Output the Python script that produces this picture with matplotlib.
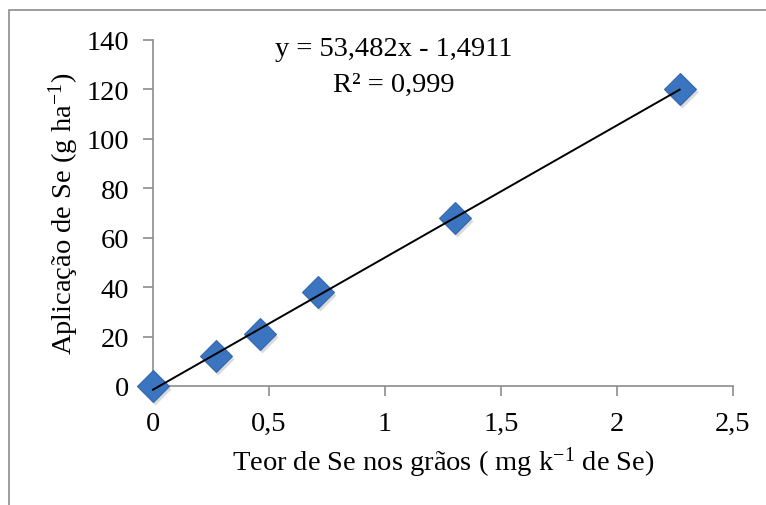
import matplotlib
matplotlib.use("Agg")
import matplotlib.pyplot as plt
import matplotlib.patches as mpatches
import numpy as np

plt.rcParams['font.family'] = ['Liberation Serif', 'DejaVu Serif']
plt.rcParams['mathtext.fontset'] = 'custom'
plt.rcParams['mathtext.rm'] = 'Liberation Serif'

# data
teor = [0, 0.27, 0.46, 0.71, 1.30, 2.27]
aplicacao = [0, 12, 21, 38, 68, 120]
slope, intercept = 53.482, -1.4911
xticks = [0, 0.5, 1, 1.5, 2, 2.5]
xticklabels = ['0', '0,5', '1', '1,5', '2', '2,5']
yticks = [0, 20, 40, 60, 80, 100, 120, 140]

fig = plt.figure(figsize=(7.66, 5.06), dpi=100)
ax = fig.add_axes([153/766, 1 - 387/506, 580/766, 346/506])

# outer chart frame (cropped on right and bottom)
fig.patches.append(mpatches.Rectangle((9/766, -0.1), 1.2, 1 - 11/506 + 0.1,
                                      transform=fig.transFigure, fill=False,
                                      edgecolor='#8c8c8c', linewidth=1.2))

gray = '#8c8c8c'
fs = 20.5
# trendline
xl = np.array([0, max(teor)])
ax.plot(xl, slope * xl + intercept, color='black', lw=1.4, zorder=4)

# shadow + markers
ax.plot(np.array(teor), np.array(aplicacao), 'D', ms=16, color='#9a9a9a',
        alpha=0.35, mec='none', zorder=2,
        transform=ax.transData + matplotlib.transforms.ScaledTranslation(2/100, -3/100, fig.dpi_scale_trans))
ax.plot(teor, aplicacao, 'D', ms=16, color='#3b75bf', mec='#3468ad', mew=0.8, zorder=3)

ax.set_xlim(0, 2.5)
ax.set_ylim(0, 140)
ax.set_xticks(xticks)
ax.set_xticklabels(xticklabels)
ax.set_yticks(yticks)
ax.tick_params(labelsize=fs, length=7, width=1.2, color=gray, direction='out')
ax.tick_params(axis='y', pad=10)
ax.tick_params(axis='x', pad=11)
for s in ['top', 'right']:
    ax.spines[s].set_visible(False)
for s in ['left', 'bottom']:
    ax.spines[s].set_color(gray)
    ax.spines[s].set_linewidth(1.2)
for ln in ax.lines:
    ln.set_clip_on(False)

ax.set_xlabel(r'Teor de Se nos grãos ( mg k$\mathregular{^{-1}}$ de Se)', fontsize=fs, labelpad=6)
ax.set_ylabel(r'Aplicação de Se (g ha$\mathregular{^{-1}}$)', fontsize=fs, labelpad=4)

ax.text(0.415, 0.974, 'y = 53,482x - 1,4911', transform=ax.transAxes,
        ha='center', va='center', fontsize=fs)
ax.text(0.415, 0.873, 'R² = 0,999', transform=ax.transAxes,
        ha='center', va='center', fontsize=fs)

fig.savefig('out.png', dpi=100)
